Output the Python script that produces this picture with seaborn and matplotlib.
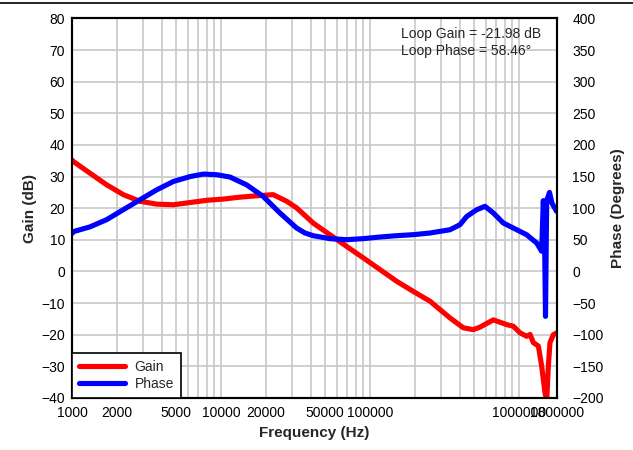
import numpy as np
import pandas as pd
import matplotlib
matplotlib.use('Agg')
import matplotlib.pyplot as plt
import seaborn as sns
from matplotlib.lines import Line2D
from matplotlib.ticker import FixedLocator, FixedFormatter, LogLocator, NullFormatter

# values
gain_freq = [1000, 1020, 1320, 1710, 2210, 2860, 3700, 4790, 6190, 8010, 10350, 13400,
             17000, 22400, 27600, 32200, 41600, 53900, 69800, 90200, 116700, 151000,
             195300, 252800, 344400, 422700, 493300, 547000, 672500, 826600, 916000,
             1016000, 1127000, 1186000, 1248000, 1349000, 1419000, 1494000, 1534000,
             1573000, 1614000, 1699000, 1790000]
gain_db = [35.3, 34.8, 31.1, 27.4, 24.3, 22.2, 21.3, 21.1, 21.8, 22.5, 22.9, 23.5,
           23.9, 24.3, 22.2, 20.1, 15.3, 11.6, 7.9, 4.3, 0.6, -3.1,
           -6.3, -9.4, -14.7, -17.8, -18.4, -17.6, -15.3, -16.8, -17.3,
           -19.4, -20.5, -19.9, -22.5, -23.6, -29.9, -38.3, -41.0,
           -30.0, -22.5, -20.0, -19.4]

phase_freq = [1000, 1020, 1320, 1710, 2210, 2860, 3700, 4790, 6190, 7610, 9360, 11500,
              14860, 19210, 24870, 32150, 36500, 41540, 53800, 69620, 90050, 116500,
              150700, 194900, 252100, 344400, 401800, 445700, 520000, 591500, 672500,
              784500, 965300, 1127000, 1315000, 1419000, 1456000, 1483000, 1506000,
              1534000, 1602000, 1664000, 1790000]
phase_deg = [60, 63, 70.5, 82, 97.7, 113.4, 129, 142.3, 150, 154, 153, 149.3,
             137, 118.6, 92.5, 68.8, 61, 56.6, 51.9, 50.3, 51.9, 54.5,
             56.6, 58.2, 60.8, 66, 74, 87, 97.6, 103, 92.5,
             76.7, 66, 58, 45, 32, 112, 60, -71,
             112, 125, 108, 95]

x_ticks = [1000, 2000, 5000, 10000, 20000, 50000, 100000, 1000000, 1800000]
gain_ticks = list(range(-40, 81, 10))
phase_ticks = list(range(-200, 401, 50))
loop_gain = -21.98
loop_phase = 58.46

sns.set_style('white')
plt.rcParams['font.family'] = ['Liberation Sans', 'DejaVu Sans']

fig, ax = plt.subplots(figsize=(6.33, 4.5), dpi=100)
fig.subplots_adjust(left=0.1137, right=0.880, top=0.9589, bottom=0.1156)
ax2 = ax.twinx()

gain_df = pd.DataFrame({'Frequency (Hz)': gain_freq, 'Gain (dB)': gain_db})
phase_df = pd.DataFrame({'Frequency (Hz)': phase_freq, 'Phase (Degrees)': phase_deg})

sns.lineplot(data=gain_df, x='Frequency (Hz)', y='Gain (dB)', ax=ax,
             color='#ff0000', lw=3.7, legend=False)
sns.lineplot(data=phase_df, x='Frequency (Hz)', y='Phase (Degrees)', ax=ax2,
             color='#0000ff', lw=3.7, legend=False)

ax.set_xscale('log')
ax.set_xlim(1000, 1800000)
ax.set_ylim(-40, 80)
ax2.set_ylim(-200, 400)

ax.xaxis.set_major_locator(FixedLocator(x_ticks))
ax.xaxis.set_major_formatter(FixedFormatter([str(t) for t in x_ticks]))
ax.xaxis.set_minor_locator(LogLocator(base=10, subs=range(2, 10)))
ax.xaxis.set_minor_formatter(NullFormatter())
ax.set_yticks(gain_ticks)
ax2.set_yticks(phase_ticks)

ax.grid(True, which='both', axis='x', color='#c8c8c8', lw=1.2)
ax.grid(True, which='major', axis='y', color='#c8c8c8', lw=1.2)
ax.set_axisbelow(True)
ax2.grid(False)

ax.tick_params(axis='x', which='both', length=0, pad=6, labelsize=10, colors='black')
ax.tick_params(axis='y', length=0, pad=5, labelsize=10, colors='black')
ax2.tick_params(axis='y', length=0, pad=11, labelsize=10, colors='black')

ax.set_xlabel('Frequency (Hz)', fontsize=11, fontweight='bold', labelpad=4)
ax.set_ylabel('Gain (dB)', fontsize=11, fontweight='bold', labelpad=3)
ax2.set_ylabel('Phase (Degrees)', fontsize=11, fontweight='bold', labelpad=5)

for a in (ax, ax2):
    for s in a.spines.values():
        s.set_color('black')
        s.set_linewidth(1.5)

handles = [Line2D([], [], color='#ff0000', lw=3.7),
           Line2D([], [], color='#0000ff', lw=3.7)]
leg = ax2.legend(handles, ['Gain', 'Phase'], loc='lower left', borderaxespad=0,
                 fancybox=False, edgecolor='black', framealpha=1, fontsize=10,
                 handlelength=3.3, handletextpad=0.7, borderpad=0.5, labelspacing=0.25)
leg.get_frame().set_linewidth(1.2)

ax2.text(0.678, 0.978, f'Loop Gain = {loop_gain} dB\nLoop Phase = {loop_phase}\u00b0',
         transform=ax.transAxes, ha='left', va='top', fontsize=10, linespacing=1.25)

fig.add_artist(Line2D([0, 1], [0.9944, 0.9944], transform=fig.transFigure,
                      color='black', lw=1.2))

fig.savefig('out.png', dpi=100)
